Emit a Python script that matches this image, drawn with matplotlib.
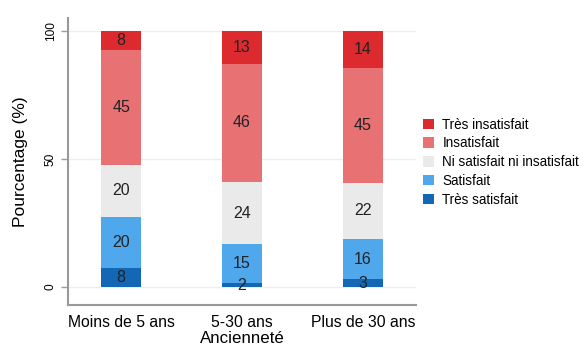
import matplotlib.pyplot as plt
import numpy as np

plt.rcParams["font.family"] = ["Liberation Sans", "DejaVu Sans"]

# data (share of respondents, %)
groups = ["Moins de 5 ans", "5-30 ans", "Plus de 30 ans"]
levels = ["Très satisfait", "Satisfait", "Ni satisfait ni insatisfait",
          "Insatisfait", "Très insatisfait"]
tres_satisfait = [7.5, 1.6, 3.1]
satisfait = [20.0, 15.3, 15.6]
neutre = [20.0, 24.0, 22.0]
insatisfait = [45.0, 46.3, 44.9]
tres_insatisfait = [7.5, 12.8, 14.4]

colors = ["#1367B4", "#4FA7EC", "#EAEAEA", "#E87174", "#DD2A2F"]
series = [tres_satisfait, satisfait, neutre, insatisfait, tres_insatisfait]

fig = plt.figure(figsize=(5.84, 3.47), dpi=100)
ax = fig.add_axes([0.1164, 0.121, 0.596, 0.827])

x = np.arange(len(groups))
bottom = np.zeros(len(groups))
handles = []
for vals, col, lab in zip(series, colors, levels):
    vals = np.array(vals)
    b = ax.bar(x, vals, 0.336, bottom=bottom, color=col, label=lab, zorder=2)
    handles.append(b)
    for xi, v, bt in zip(x, vals, bottom):
        ax.text(xi, bt + v / 2, str(int(np.floor(v + 0.5))), ha="center", va="center",
                fontsize=11.5, color="#222222", zorder=3)
    bottom += vals

ax.set_xlim(-0.44, 2.44)
ax.set_ylim(-7, 105)
ax.set_yticks([0, 50, 100])
ax.set_yticklabels(["0", "50", "100"], rotation=90, va="center", fontsize=8.6)
ax.set_xticks(x)
ax.set_xticklabels(groups, fontsize=11.3)
ax.tick_params(axis="x", length=0, pad=7)
ax.tick_params(axis="y", length=5, width=1, color="#999999", pad=3)
ax.grid(axis="y", color="#E6F0F1", lw=1, zorder=0)
ax.set_ylabel("Pourcentage (%)", fontsize=12.5, labelpad=12)
ax.set_xlabel("Ancienneté", fontsize=12.2, labelpad=1)

for s in ["top", "right"]:
    ax.spines[s].set_visible(False)
for s in ["left", "bottom"]:
    ax.spines[s].set_color("#999999")
    ax.spines[s].set_linewidth(1.5)

fig.legend(handles[::-1], levels[::-1], loc="center left",
           bbox_to_anchor=(0.725, 0.533), frameon=False, fontsize=9.75,
           handlelength=0.8, handleheight=0.8, handletextpad=0.6,
           labelspacing=0.35, borderpad=0, borderaxespad=0)

fig.savefig("out.png", dpi=100)
